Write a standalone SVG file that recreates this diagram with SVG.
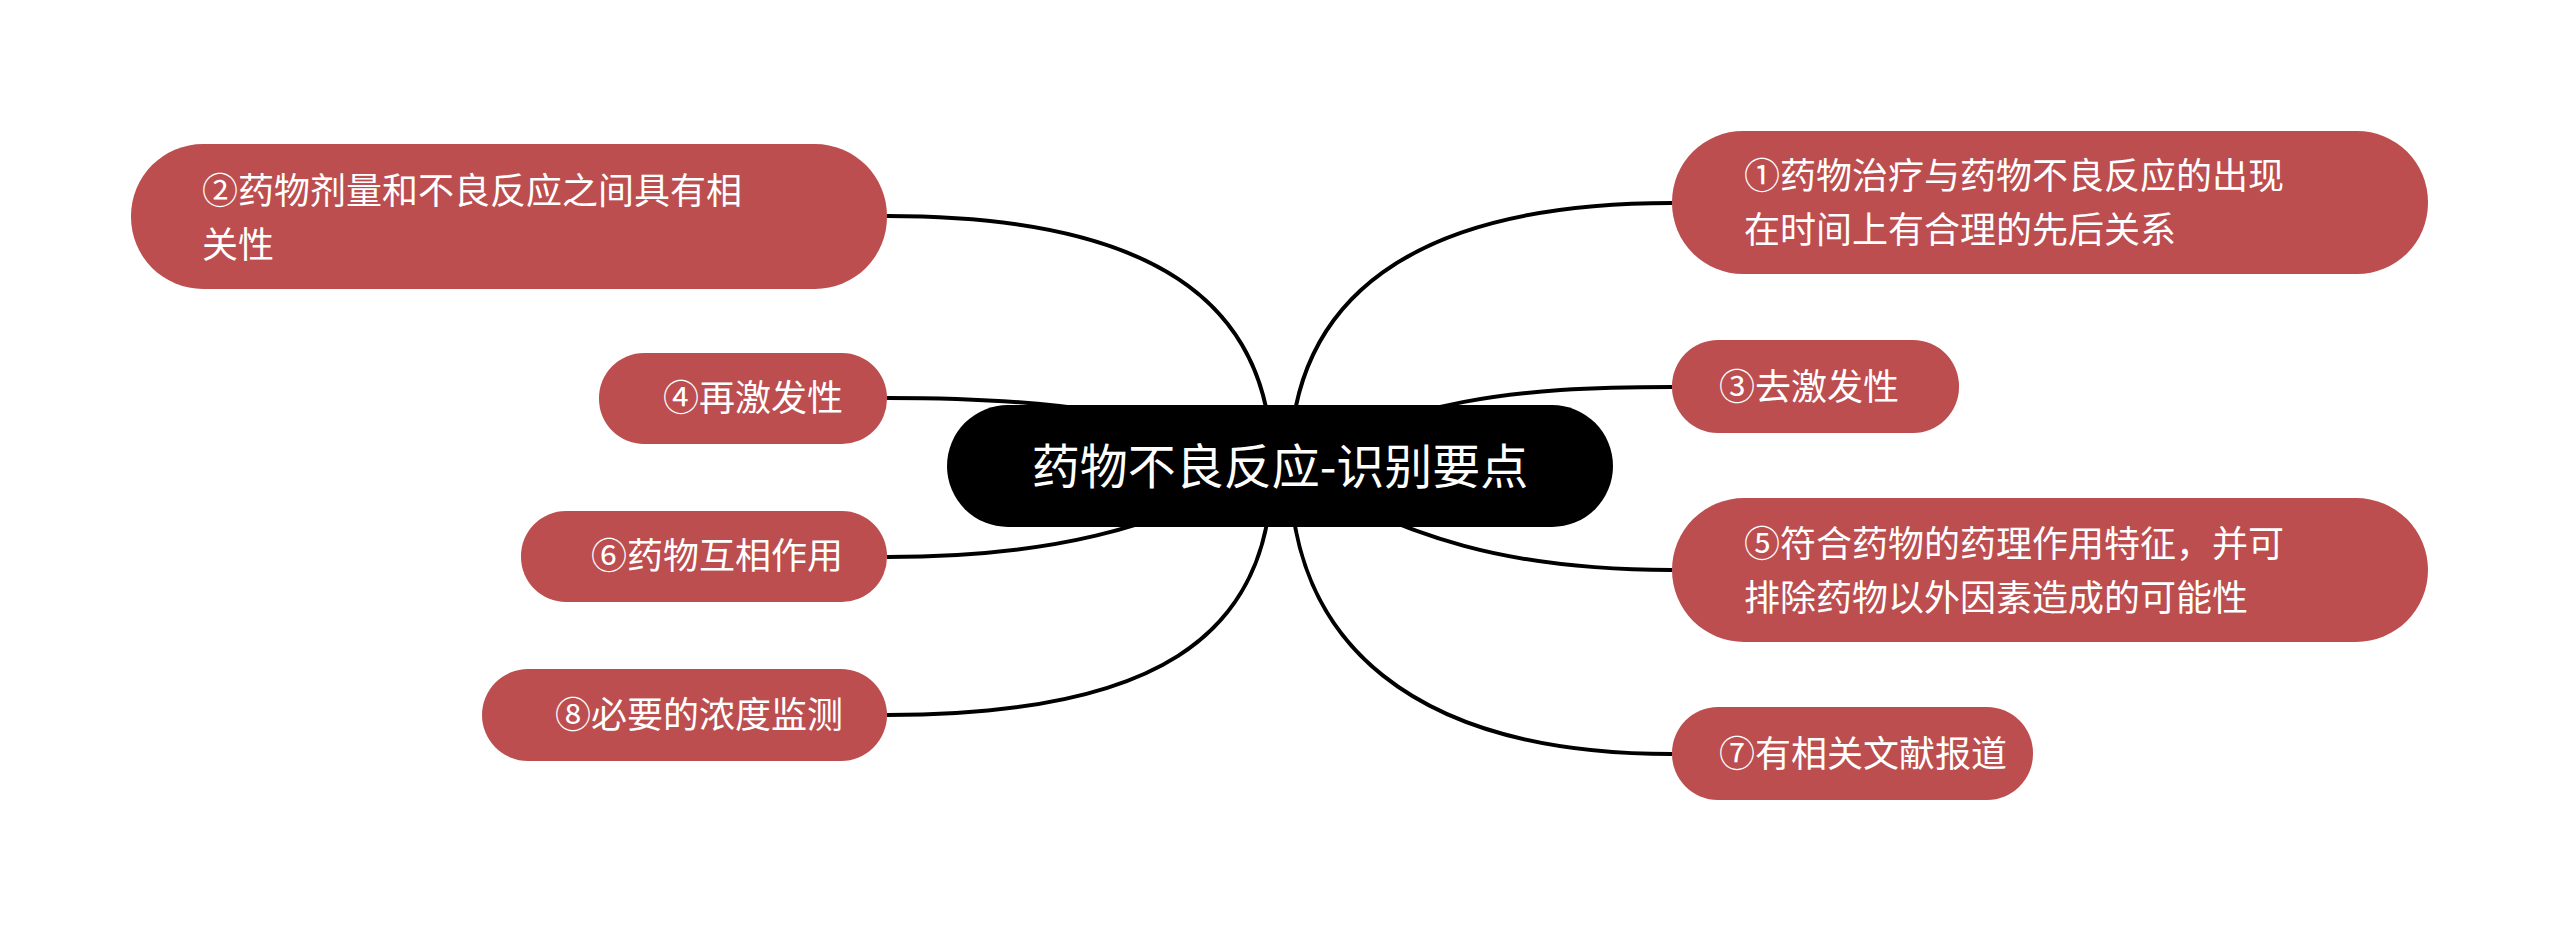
<svg xmlns="http://www.w3.org/2000/svg" width="2560" height="932" viewBox="0 0 2560 932">
<style>
.n{fill:#BC4E4F}
.t{fill:#fff;font-family:"Noto Sans CJK SC","Noto Sans",sans-serif;font-size:36px}
.c{fill:none;stroke:#000;stroke-width:4}
</style>
<rect width="2560" height="932" fill="#fff"/>
<g id="connectors">
<path class="c" d="M887,216 C1150,216 1272,300 1272,467"/>
<path class="c" d="M887,398 C1050,398 1150,410 1280,467"/>
<path class="c" d="M887,557 C1050,557 1150,530 1280,467"/>
<path class="c" d="M887,715 C1150,715 1272,640 1272,467"/>
<path class="c" d="M1672,203 C1410,203 1290,300 1290,467"/>
<path class="c" d="M1672,387 C1510,387 1410,400 1280,467"/>
<path class="c" d="M1672,570 C1510,570 1410,540 1280,467"/>
<path class="c" d="M1672,754 C1410,754 1290,640 1290,467"/>
</g>
<g id="center"><rect x="947" y="405" width="666" height="122" rx="61" fill="#000"/><text x="1280" y="484" text-anchor="middle" class="t" style="font-size:48px">药物不良反应-识别要点</text></g>
<g id="n2"><rect class="n" x="131" y="144" width="756" height="145" rx="72"/><text class="t" x="202" y="204">②药物剂量和不良反应之间具有相</text><text class="t" x="202" y="258">关性</text></g>
<g id="n4"><rect class="n" x="599" y="353" width="288" height="91" rx="45"/><text class="t" x="843" y="411" text-anchor="end">④再激发性</text></g>
<g id="n6"><rect class="n" x="521" y="511" width="366" height="91" rx="45"/><text class="t" x="843" y="569" text-anchor="end">⑥药物互相作用</text></g>
<g id="n8"><rect class="n" x="482" y="669" width="405" height="92" rx="46"/><text class="t" x="843" y="728" text-anchor="end">⑧必要的浓度监测</text></g>
<g id="n1"><rect class="n" x="1672" y="131" width="756" height="143" rx="71"/><text class="t" x="1744" y="189">①药物治疗与药物不良反应的出现</text><text class="t" x="1744" y="243">在时间上有合理的先后关系</text></g>
<g id="n3"><rect class="n" x="1672" y="340" width="287" height="93" rx="46"/><text class="t" x="1719" y="400">③去激发性</text></g>
<g id="n5"><rect class="n" x="1672" y="498" width="756" height="144" rx="72"/><text class="t" x="1744" y="557">⑤符合药物的药理作用特征，并可</text><text class="t" x="1744" y="611">排除药物以外因素造成的可能性</text></g>
<g id="n7"><rect class="n" x="1672" y="707" width="361" height="93" rx="46"/><text class="t" x="1719" y="767">⑦有相关文献报道</text></g>
</svg>
